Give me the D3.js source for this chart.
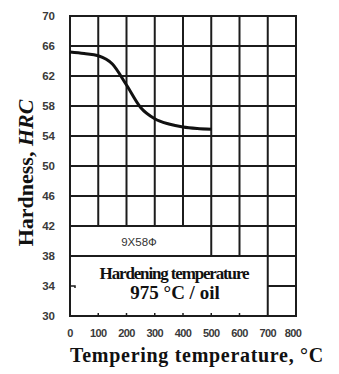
<!DOCTYPE html>
<html>
<head>
<meta charset="utf-8">
<script src="https://cdn.jsdelivr.net/npm/d3@7"></script>
<style>
  html, body { margin: 0; padding: 0; background: #fff; }
  svg { display: block; }
</style>
</head>
<body>
<svg id="chart" width="339" height="374"></svg>
<script>
// Tempering curve: hardness vs. tempering temperature
const temperature = [0, 50, 100, 150, 200, 250, 300, 350, 400, 450, 500];
const hardness    = [65.2, 65.0, 64.7, 63.6, 60.8, 57.8, 56.3, 55.6, 55.2, 55.0, 54.9];

const xTicks = [0, 100, 200, 300, 400, 500, 600, 700, 800];
const yTicks = [70, 66, 62, 58, 54, 50, 46, 42, 38, 34, 30];

// Grid layout: [value, from, to]
const hGrid = [[66, 0, 800], [62, 0, 800], [58, 0, 800], [54, 0, 800], [50, 0, 800],
               [46, 0, 800], [42, 0, 800], [38, 0, 800], [34, 700, 800]];
const vGrid = [[100, 42, 70], [200, 42, 70], [300, 42, 70], [400, 42, 70],
               [500, 38, 70], [600, 38, 70], [700, 30, 70]];
const bottomMarks = [100, 200, 300, 400, 500, 600];

const materialLabel = "9X58Ф";
const noteLines = ["Hardening temperature", "975 °C / oil"];

const svg = d3.select("#chart");
const x = d3.scaleLinear().domain([0, 800]).range([70, 296]);
const y = d3.scaleLinear().domain([30, 70]).range([316, 16]);

const ink = "#1c1c1c";
const g = svg.append("g");

// grid
g.selectAll(".hg").data(hGrid).join("line")
  .attr("x1", d => x(d[1])).attr("x2", d => x(d[2]))
  .attr("y1", d => y(d[0])).attr("y2", d => y(d[0]))
  .attr("stroke", ink).attr("stroke-width", 2);
g.selectAll(".vg").data(vGrid).join("line")
  .attr("x1", d => x(d[0])).attr("x2", d => x(d[0]))
  .attr("y1", d => y(d[1])).attr("y2", d => y(d[2]))
  .attr("stroke", ink).attr("stroke-width", 2);

// small marks along the bottom edge and the left edge
g.selectAll(".bm").data(bottomMarks).join("line")
  .attr("x1", d => x(d)).attr("x2", d => x(d))
  .attr("y1", y(30)).attr("y2", y(30) - 3)
  .attr("stroke", ink).attr("stroke-width", 1.5);
g.append("path")
  .attr("d", `M${x(0)},${y(34)}H${x(0) + 5}v2`)
  .attr("fill", "none").attr("stroke", ink).attr("stroke-width", 1.5);

// frame
g.append("rect")
  .attr("x", x(0)).attr("y", y(70))
  .attr("width", x(800) - x(0)).attr("height", y(30) - y(70))
  .attr("fill", "none").attr("stroke", ink).attr("stroke-width", 2);

// curve
const line = d3.line()
  .x((d, i) => x(temperature[i]))
  .y(d => y(d))
  .curve(d3.curveMonotoneX);
g.append("path")
  .datum(hardness)
  .attr("d", line)
  .attr("fill", "none").attr("stroke", "#111").attr("stroke-width", 3);

// tick labels
const tickFont = "'Liberation Sans Narrow', 'Liberation Sans', Arial, sans-serif";
svg.append("g").selectAll("text").data(yTicks).join("text")
  .attr("x", 55).attr("y", d => y(d) + 4)
  .attr("text-anchor", "end")
  .attr("font-family", tickFont).attr("font-weight", "bold")
  .attr("font-size", 11.5).attr("fill", "#3a3a3a")
  .text(d => d);
svg.append("g").selectAll("text").data(xTicks).join("text")
  .attr("x", d => x(d) - (d === 800 ? 3 : 0)).attr("y", 337)
  .attr("text-anchor", "middle")
  .attr("font-family", tickFont).attr("font-weight", "bold")
  .attr("font-size", 11).attr("fill", "#3a3a3a")
  .attr("letter-spacing", -0.6)
  .text(d => d);

// labels inside the plot
svg.append("text")
  .attr("x", 139).attr("y", 246)
  .attr("text-anchor", "middle")
  .attr("font-family", tickFont).attr("font-size", 11.5)
  .attr("fill", "#333")
  .text(materialLabel);

const serif = "'Liberation Serif', 'Times New Roman', serif";
svg.append("text")
  .attr("x", 174).attr("y", 279)
  .attr("text-anchor", "middle")
  .attr("font-family", serif).attr("font-weight", "bold")
  .attr("font-size", 17).attr("letter-spacing", -1.15)
  .attr("fill", "#111")
  .text(noteLines[0]);
svg.append("text")
  .attr("x", 175).attr("y", 299)
  .attr("text-anchor", "middle")
  .attr("font-family", serif).attr("font-weight", "bold")
  .attr("font-size", 19)
  .attr("fill", "#111")
  .text(noteLines[1]);

// axis titles
svg.append("text")
  .attr("x", 197).attr("y", 362)
  .attr("text-anchor", "middle")
  .attr("font-family", serif).attr("font-weight", "bold")
  .attr("font-size", 20).attr("letter-spacing", 0.7).attr("fill", "#111")
  .text("Tempering temperature, °C");

const yt = svg.append("text")
  .attr("transform", "translate(33,173) rotate(-90)")
  .attr("text-anchor", "middle")
  .attr("font-family", serif).attr("font-weight", "bold")
  .attr("font-size", 22).attr("fill", "#111");
yt.append("tspan").text("Hardness, ");
yt.append("tspan").attr("font-style", "italic").text("HRC");
</script>
</body>
</html>
